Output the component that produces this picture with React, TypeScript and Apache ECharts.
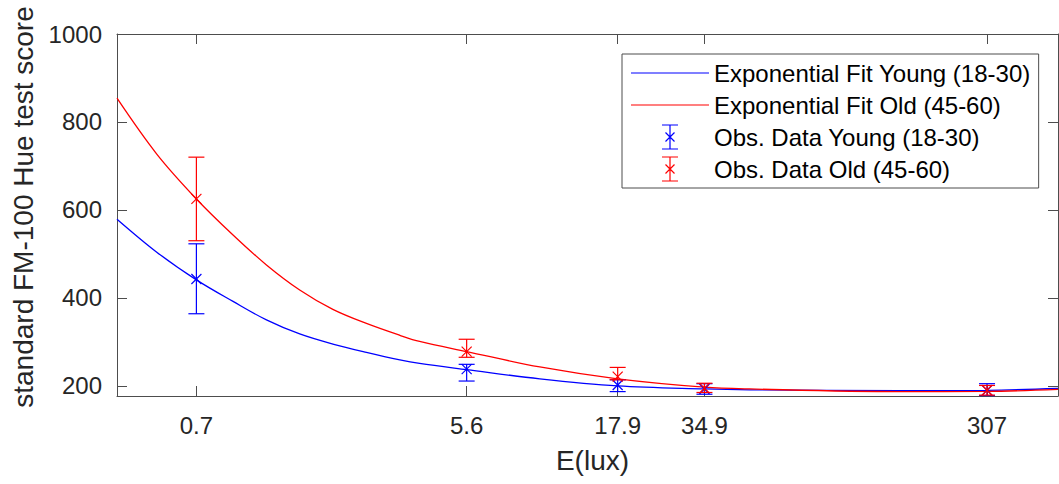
import React, { useEffect, useRef } from 'react';
import * as echarts from 'echarts';

// Axis ticks
const xTicks = [0.7, 5.6, 17.9, 34.9, 307];
const xTickLabels = ['0.7', '5.6', '17.9', '34.9', '307'];
const yTicks = [200, 400, 600, 800, 1000];

// Observed data (mean, lower, upper)
const obsE = [0.7, 5.6, 17.9, 34.9, 307];
const youngMean = [443, 238, 202, 193, 190];
const youngLow = [364, 211, 187, 181, 178];
const youngHigh = [523, 249, 214, 205, 205];
const oldMean = [625, 278, 221, 195, 190];
const oldLow = [530, 265, 214, 185, 179];
const oldHigh = [720, 306, 242, 206, 201];

// Fitted curves
const fitE = [0.38, 0.516, 0.7, 0.928, 1.2, 1.55, 2.0, 2.59, 3.35, 3.9, 5.6, 9.83, 17.9, 34.9, 49.4, 157, 307, 530];
const fitYoung = [579, 504, 441, 392, 350, 318, 295, 276, 259, 251, 237, 216, 200, 193, 191, 189, 190, 194];
const fitOld = [854, 727, 625, 543, 475, 418, 374, 342, 315, 301, 278, 243, 216, 197, 193, 187, 187.5, 192];

const names = [
  'Exponential Fit Young (18-30)',
  'Exponential Fit Old (45-60)',
  'Obs. Data Young (18-30)',
  'Obs. Data Old (45-60)',
];

const BLUE = '#0000ff';
const RED = '#ff0000';
const AXIS = '#262626';
const AXIS_LINE = '#4d4d4d';
const FONT = "'Liberation Sans', Arial, Helvetica, sans-serif";

const errIcon =
  'path://M0 0 M78 26 ' +
  'M31 0.4 L47 0.4 L47 1.6 L31 1.6 Z ' +
  'M31 24.4 L47 24.4 L47 25.6 L31 25.6 Z ' +
  'M38.4 1 L39.6 1 L39.6 25 L38.4 25 Z ' +
  'M34.08 8.92 L34.92 8.08 L43.92 17.08 L43.08 17.92 Z ' +
  'M43.08 8.08 L43.92 8.92 L34.92 17.92 L34.08 17.08 Z';
const lineIcon = 'path://M0 0 M78 26 M0 12.4 L78 12.4 L78 13.6 L0 13.6 Z';

function errSeries(name: string, color: string, mean: number[], low: number[], high: number[]) {
  return {
    name,
    type: 'custom',
    itemStyle: { color },
    clip: false,
    encode: { x: 0, y: 1 },
    data: obsE.map((e, i) => [e, mean[i], low[i], high[i]]),
    renderItem: (params: any, api: any) => {
      const x = api.value(0);
      const pm = api.coord([x, api.value(1)]);
      const pl = api.coord([x, api.value(2)]);
      const ph = api.coord([x, api.value(3)]);
      const cx = pm[0];
      const cw = 8;
      const ms = 5;
      const st = { stroke: color, lineWidth: 1.2, fill: 'none' };
      return {
        type: 'group',
        children: [
          { type: 'line', shape: { x1: cx, y1: pl[1], x2: cx, y2: ph[1] }, style: st },
          { type: 'line', shape: { x1: cx - cw, y1: pl[1], x2: cx + cw, y2: pl[1] }, style: st },
          { type: 'line', shape: { x1: cx - cw, y1: ph[1], x2: cx + cw, y2: ph[1] }, style: st },
          { type: 'line', shape: { x1: cx - ms, y1: pm[1] - ms, x2: cx + ms, y2: pm[1] + ms }, style: st },
          { type: 'line', shape: { x1: cx - ms, y1: pm[1] + ms, x2: cx + ms, y2: pm[1] - ms }, style: st },
        ],
      };
    },
    z: 3,
  };
}

export default function App() {
  const ref = useRef<HTMLDivElement>(null);
  useEffect(() => {
    if (!ref.current) return;
    const chart = echarts.init(ref.current, null, { renderer: 'svg' });
    const xBase = {
      type: 'log',
      logBase: 10,
      min: 0.38,
      max: 530,
      splitLine: { show: false },
      axisLine: { show: true, lineStyle: { color: AXIS_LINE, width: 1 } },
      axisTick: { show: true, inside: true, length: 10, customValues: xTicks, lineStyle: { color: AXIS_LINE } },
      minorTick: { show: false },
    };
    const yBase = {
      type: 'value',
      min: 177,
      max: 1000,
      splitLine: { show: false },
      axisLine: { show: true, lineStyle: { color: AXIS_LINE, width: 1 } },
      axisTick: { show: true, inside: true, length: 10, customValues: yTicks, lineStyle: { color: AXIS_LINE } },
    };
    chart.setOption({
      animation: false,
      backgroundColor: '#ffffff',
      grid: { left: 117, top: 34, right: 1, bottom: 88, containLabel: false, outerBoundsMode: 'none' },
      xAxis: [
        {
          ...xBase,
          position: 'bottom',
          name: 'E(lux)',
          nameLocation: 'middle',
          nameGap: 50,
          nameTextStyle: { fontFamily: FONT, fontSize: 28, color: AXIS, padding: [0, 0, 0, 10] },
          axisLabel: {
            show: true,
            customValues: xTicks,
            margin: 17,
            fontFamily: FONT,
            fontSize: 24,
            color: AXIS,
            formatter: (v: number) => {
              const i = xTicks.findIndex((t) => Math.abs(t - v) < 1e-6 * Math.max(1, t));
              return i >= 0 ? xTickLabels[i] : '';
            },
          },
        },
        {
          ...xBase,
          position: 'top',
          axisLabel: { show: false },
        },
      ],
      yAxis: [
        {
          ...yBase,
          position: 'left',
          name: 'standard FM-100 Hue test score',
          nameLocation: 'middle',
          nameRotate: 90,
          nameGap: 79,
          nameTextStyle: { fontFamily: FONT, fontSize: 28, color: AXIS, padding: [0, 0, 0, 16] },
          axisLabel: {
            show: true,
            customValues: yTicks,
            margin: 15,
            fontFamily: FONT,
            fontSize: 24,
            color: AXIS,
            formatter: (v: number) => String(Math.round(v)),
          },
        },
        {
          ...yBase,
          position: 'right',
          axisLabel: { show: false },
        },
      ],
      legend: {
        orient: 'vertical',
        left: 622,
        top: 54,
        padding: [6, 8, 6, 9],
        itemGap: 6,
        itemWidth: 78,
        itemHeight: 26,
        itemTextGap: 11,
        backgroundColor: '#ffffff',
        borderColor: AXIS_LINE,
        borderWidth: 1,
        selectedMode: false,
        textStyle: { fontFamily: FONT, fontSize: 24, color: '#000000', lineHeight: 26 },
        data: [
          { name: names[0], icon: lineIcon, itemStyle: { color: BLUE, borderWidth: 0 } },
          { name: names[1], icon: lineIcon, itemStyle: { color: RED, borderWidth: 0 } },
          { name: names[2], icon: errIcon, itemStyle: { color: BLUE, borderWidth: 0 } },
          { name: names[3], icon: errIcon, itemStyle: { color: RED, borderWidth: 0 } },
        ],
      },
      series: [
        {
          name: names[0],
          type: 'line',
          xAxisIndex: 0,
          yAxisIndex: 0,
          data: fitE.map((e, i) => [e, fitYoung[i]]),
          showSymbol: false,
          symbol: 'none',
          smooth: 0.35,
          lineStyle: { color: BLUE, width: 1.3 },
          itemStyle: { color: BLUE },
          z: 2,
        },
        {
          name: names[1],
          type: 'line',
          xAxisIndex: 0,
          yAxisIndex: 0,
          data: fitE.map((e, i) => [e, fitOld[i]]),
          showSymbol: false,
          symbol: 'none',
          smooth: 0.35,
          lineStyle: { color: RED, width: 1.3 },
          itemStyle: { color: RED },
          z: 2,
        },
        errSeries(names[2], BLUE, youngMean, youngLow, youngHigh),
        errSeries(names[3], RED, oldMean, oldLow, oldHigh),
      ],
    });
    return () => chart.dispose();
  }, []);
  return (
    <div
      ref={ref}
      style={{ position: 'absolute', left: 0, top: 0, width: 1059, height: 484 }}
    />
  );
}
